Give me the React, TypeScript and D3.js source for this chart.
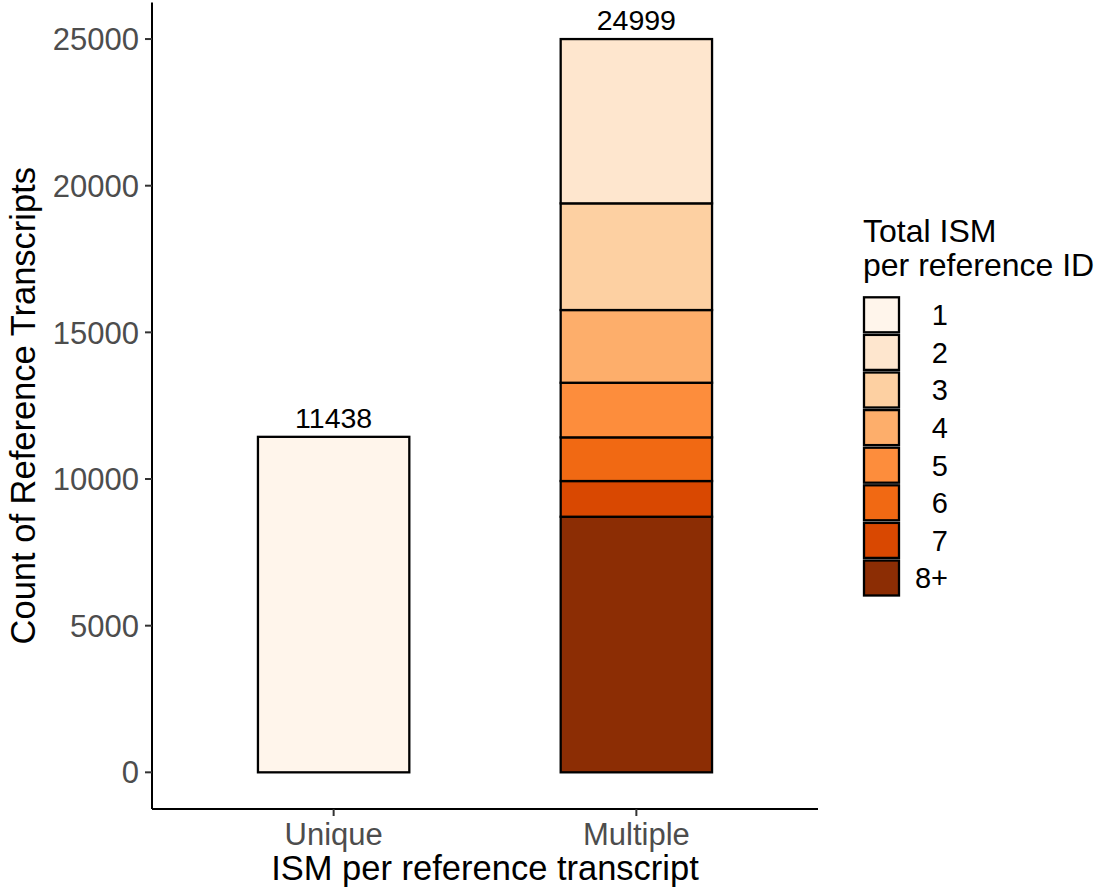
import React from "react";
import * as d3 from "d3";

const categories = ["Unique", "Multiple"];
const levels = ["1", "2", "3", "4", "5", "6", "7", "8+"];
const colors = ["#FFF5EB", "#FEE6CE", "#FDD0A2", "#FDAE6B", "#FD8D3C", "#F16913", "#D94801", "#8C2D04"];
// counts per category, by level
const uniqueCounts = [11438, 0, 0, 0, 0, 0, 0, 0];
const multipleCounts = [0, 5601, 3637, 2479, 1862, 1489, 1217, 8714];
const totals = [11438, 24999];
const yTicks = [0, 5000, 10000, 15000, 20000, 25000];

const W = 1097;
const H = 890;
const FONT = "'Liberation Sans', Arial, Helvetica, sans-serif";

export default function App() {
  const panel = { left: 152, right: 818, top: 2.4, bottom: 809 };
  const maxV = d3.max(totals) as number;
  const y = d3
    .scaleLinear()
    .domain([-maxV * 0.05, maxV * 1.05])
    .range([panel.bottom, panel.top]);
  const x = d3.scalePoint<string>().domain(categories).range([panel.left, panel.right]).padding(0.6);
  const barW = 0.5 * x.step();

  const data = [uniqueCounts, multipleCounts];
  const stackRows = categories.map((c, i) => {
    const row: any = { cat: c };
    levels.forEach((l, j) => (row[l] = data[i][j]));
    return row;
  });
  // level 1 on top => 8+ at bottom
  const stack = d3.stack<any>().keys([...levels].reverse());
  const series = stack(stackRows);

  const keySpacing = 37.6;
  const keyTop = 296;
  const keySize = 35;

  return (
    <svg
      width={W}
      height={H}
      style={{ position: "absolute", left: 0, top: 0, background: "#fff" }}
      fontFamily={FONT}
    >
      <rect width={W} height={H} fill="#fff" />
      {series.map((s) => {
        const li = levels.indexOf(s.key);
        return s.map((d, i) => {
          const v = d[1] - d[0];
          if (v <= 0) return null;
          const c = categories[i];
          return (
            <rect
              key={s.key + "-" + i}
              x={(x(c) as number) - barW / 2}
              y={y(d[1])}
              width={barW}
              height={y(d[0]) - y(d[1])}
              fill={colors[li]}
              stroke="#000"
              strokeWidth={2.3}
            />
          );
        });
      })}
      {totals.map((t, i) => (
        <text
          key={"t" + i}
          x={x(categories[i]) as number}
          y={y(t) - 9}
          textAnchor="middle"
          fontSize={28.5}
          fill="#000"
        >
          {t}
        </text>
      ))}
      <line x1={panel.left} x2={panel.left} y1={panel.top} y2={panel.bottom} stroke="#000" strokeWidth={2} />
      <line x1={panel.left} x2={panel.right} y1={panel.bottom} y2={panel.bottom} stroke="#000" strokeWidth={2} />
      {yTicks.map((t) => (
        <g key={"y" + t}>
          <line x1={panel.left - 7} x2={panel.left} y1={y(t)} y2={y(t)} stroke="#333" strokeWidth={2} />
          <text x={panel.left - 13} y={y(t)} dy="0.36em" textAnchor="end" fontSize={31} fill="#4D4D4D">
            {t}
          </text>
        </g>
      ))}
      {categories.map((c) => (
        <g key={"x" + c}>
          <line x1={x(c)} x2={x(c)} y1={panel.bottom} y2={panel.bottom + 7} stroke="#333" strokeWidth={2} />
          <text x={x(c)} y={845} textAnchor="middle" fontSize={31} fill="#4D4D4D">
            {c}
          </text>
        </g>
      ))}
      <text x={(panel.left + panel.right) / 2} y={880} textAnchor="middle" fontSize={34.5} fill="#000">
        ISM per reference transcript
      </text>
      <text
        transform={`translate(35,${(panel.top + panel.bottom) / 2}) rotate(-90)`}
        textAnchor="middle"
        fontSize={34.5}
        fill="#000"
      >
        Count of Reference Transcripts
      </text>
      <text x={863} y={242} fontSize={32} fill="#000">
        Total ISM
      </text>
      <text x={863} y={275.5} fontSize={32} fill="#000">
        per reference ID
      </text>
      {levels.map((l, j) => {
        const cy = keyTop + keySpacing * j + keySpacing / 2;
        return (
          <g key={"k" + l}>
            <rect
              x={864}
              y={cy - keySize / 2}
              width={keySize}
              height={keySize}
              fill={colors[j]}
              stroke="#000"
              strokeWidth={2.3}
            />
            <text x={948} y={cy} dy="0.36em" textAnchor="end" fontSize={29} fill="#000">
              {l}
            </text>
          </g>
        );
      })}
    </svg>
  );
}
